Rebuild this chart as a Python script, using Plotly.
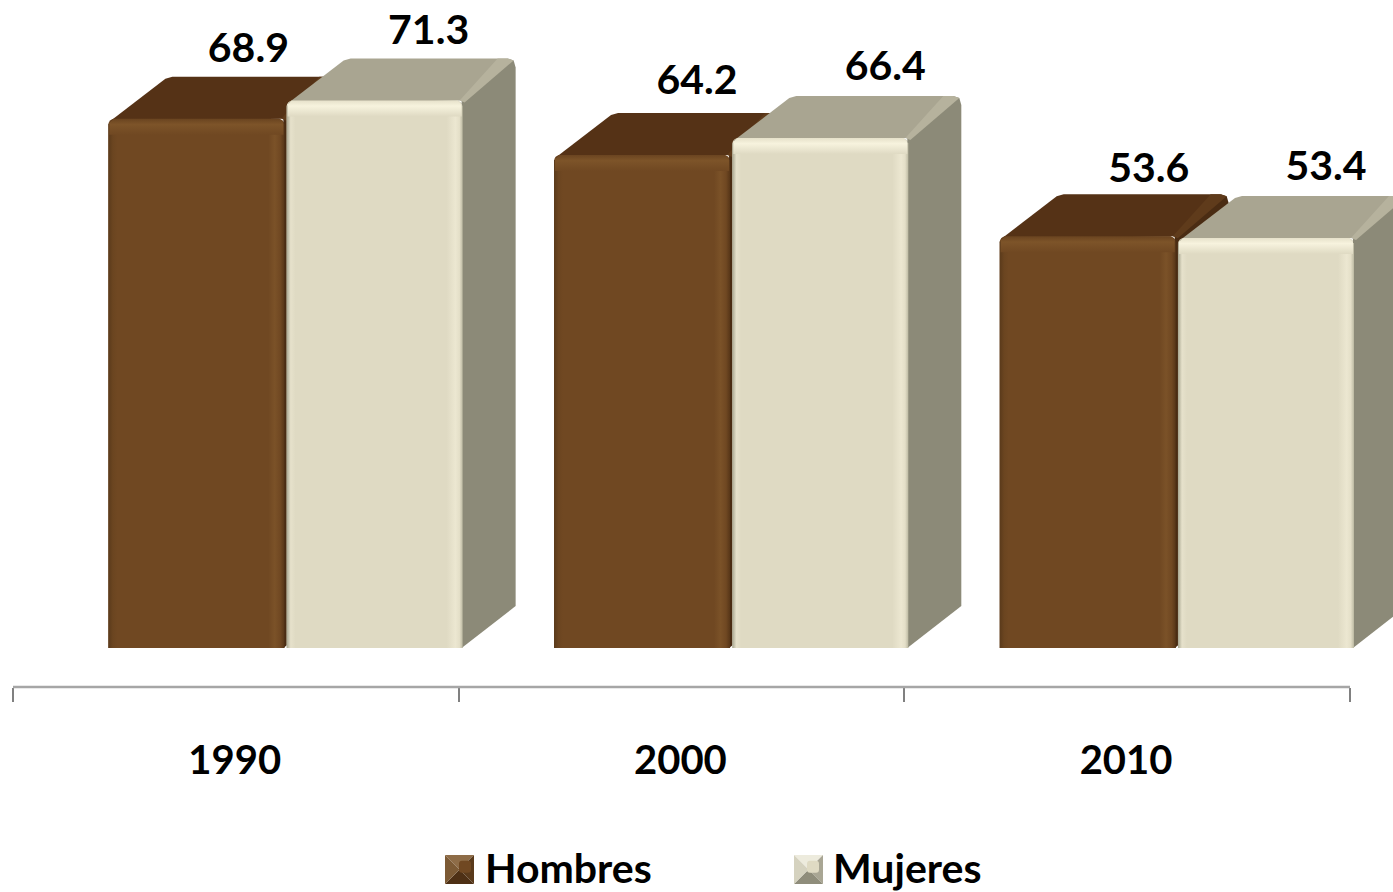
import plotly.graph_objects as go

years = ["1990", "2000", "2010"]
hombres = [68.9, 64.2, 53.6]
mujeres = [71.3, 66.4, 53.4]
series_names = ["Hombres", "Mujeres"]

# label nudges in screen pixels (style only)
label_dx = [[52, 55, 61], [54, 65, 60]]
label_dy = [[67, 71, 65], [67, 68, 68]]

W, H = 1393, 892
AXIS_LEFT, AXIS_RIGHT, AXIS_Y, BASE_Y = 13, 1350, 687, 648
PXX = 3 / (AXIS_RIGHT - AXIS_LEFT)   # axis units per pixel
PXY = 1 / 7.68                       # value units per pixel
BAR_W = 176 * PXX
DEPTH_X, DEPTH_Y = 53 * PXX, 42 * PXY
OFFSETS = [-0.286, 0.114]
FONT = "Lato"
WEIGHT = 700

PAL = [
    dict(front="#704822", top="#553216", side="#4A2C13", ridge="#5F3B1B",
         top_strip=[[0, "#6A4420"], [0.35, "#7D5429"], [1, "#704822"]],
         left_strip=[[0, "#5A3A1B"], [0.5, "#6B4520"], [1, "#704822"]],
         right_strip=[[0, "#704822"], [0.4, "#7B5228"], [0.75, "#704822"], [1, "#573618"]]),
    dict(front="#DFDAC3", top="#A9A591", side="#8C8A78", ridge="#B6B29D",
         top_strip=[[0, "#E6E1CA"], [0.35, "#F7F3DE"], [1, "#DFDAC3"]],
         left_strip=[[0, "#A8A690"], [0.45, "#E6E1CB"], [1, "#DFDAC3"]],
         right_strip=[[0, "#DFDAC3"], [0.55, "#ECE7D1"], [0.8, "#E4DFC8"], [1, "#BDBAA3"]]),
]

x_range = [-AXIS_LEFT * PXX, (W - AXIS_LEFT) * PXX]
y_range = [-(AXIS_Y - BASE_Y) * PXY, BASE_Y * PXY]

fig = go.Figure()


def poly(xs, ys, axes, color=None, gradient=None):
    kw = dict(fillcolor=color) if gradient is None else dict(fillgradient=gradient)
    fig.add_trace(go.Scatter(x=xs + xs[:1], y=ys + ys[:1], mode="lines", fill="toself",
                             line=dict(width=0), showlegend=False, hoverinfo="skip",
                             xaxis=axes[0], yaxis=axes[1], **kw))


for s, values in enumerate([hombres, mujeres]):
    axes = ("x", "y") if s == 0 else ("x2", "y2")
    p = PAL[s]
    fig.add_trace(go.Bar(x=[i + 0.5 for i in range(len(years))], y=values, width=BAR_W,
                         offset=OFFSETS[s], name=series_names[s],
                         marker=dict(color=p["front"], cornerradius=6, line=dict(width=0)),
                         xaxis=axes[0], yaxis=axes[1],
                         hovertemplate="%{y}<extra>" + series_names[s] + "</extra>"))
    for i, v in enumerate(values):
        L = i + 0.5 + OFFSETS[s]
        R = L + BAR_W
        # top face
        poly([L + 1 * PXX, L + DEPTH_X + 4 * PXX, L + DEPTH_X + 11 * PXX, R + DEPTH_X - 8 * PXX, R - 1 * PXX],
             [v - 3 * PXY, v + DEPTH_Y - 2 * PXY, v + DEPTH_Y, v + DEPTH_Y, v],
             axes, color=p["top"])
        # side face
        poly([R - 1 * PXX, R + DEPTH_X - 8 * PXX, R + DEPTH_X - 2 * PXX, R + DEPTH_X, R + DEPTH_X, R - 1 * PXX],
             [v, v + DEPTH_Y, v + DEPTH_Y - 2 * PXY, v + DEPTH_Y - 9 * PXY, DEPTH_Y, 0],
             axes, color=p["side"])
        # ridge between top and side
        poly([R - 3 * PXX, R + DEPTH_X - 18 * PXX, R + DEPTH_X - 8 * PXX, R + DEPTH_X - 2 * PXX, R + 2 * PXX],
             [v, v + DEPTH_Y, v + DEPTH_Y, v + DEPTH_Y - 2 * PXY, v - 2 * PXY],
             axes, color=p["ridge"])
        # bevel strips on the front face
        poly([L, L + 9 * PXX, L + 9 * PXX, L], [v - 5 * PXY, v - 5 * PXY, 0, 0], axes,
             gradient=dict(type="horizontal", start=L, stop=L + 9 * PXX, colorscale=p["left_strip"]))
        poly([R - 16 * PXX, R, R, R - 16 * PXX], [v - 5 * PXY, v - 5 * PXY, 0, 0], axes,
             gradient=dict(type="horizontal", start=R - 16 * PXX, stop=R, colorscale=p["right_strip"]))
        poly([L + 5 * PXX, R - 5 * PXX, R - 1 * PXX, R - 1 * PXX, L + 1 * PXX, L + 1 * PXX],
             [v, v, v - 4 * PXY, v - 16 * PXY, v - 16 * PXY, v - 4 * PXY], axes,
             gradient=dict(type="vertical", start=v - 16 * PXY, stop=v,
                           colorscale=[[1 - c[0], c[1]] for c in reversed(p["top_strip"])]))

    # value labels
    fig.add_trace(go.Scatter(
        x=[i + 0.5 + OFFSETS[s] + BAR_W / 2 + label_dx[s][i] * PXX for i in range(len(years))],
        y=[v + label_dy[s][i] * PXY for i, v in enumerate(values)],
        text=[f"{v:.1f}" for v in values], mode="text", textposition="middle center",
        textfont=dict(family=FONT, size=41, color="#000000", weight=WEIGHT),
        showlegend=False, hoverinfo="skip", cliponaxis=False, xaxis="x2", yaxis="y2"))


def px(x):
    return x / W


def py(y):
    return (AXIS_Y - y) / AXIS_Y


shapes = [dict(type="line", xref="x", yref="paper", x0=0, x1=3, y0=0, y1=0,
               line=dict(color="#A6A6A6", width=2.5))]

SWATCHES = [
    (445, 855, 29, ["#8E6C47", "#5A3A1B", "#4E3015", "#7C5A35"]),
    (794, 855, 29, ["#EDEBDD", "#A9A694", "#8F8D7B", "#D5D2BF"]),
]
for x0, y0, sz, (c_top, c_right, c_bottom, c_left) in SWATCHES:
    cx, cy = x0 + sz / 2, y0 + sz / 2
    corners = [(x0, y0), (x0 + sz, y0), (x0 + sz, y0 + sz), (x0, y0 + sz)]
    for k, col in enumerate([c_top, c_right, c_bottom, c_left]):
        a, b = corners[k], corners[(k + 1) % 4]
        path = f"M{px(a[0])},{py(a[1])} L{px(b[0])},{py(b[1])} L{px(cx)},{py(cy)} Z"
        shapes.append(dict(type="path", xref="paper", yref="paper", path=path,
                           fillcolor=col, line=dict(width=0), layer="above"))

fig.update_layout(
    width=W, height=H, autosize=False,
    margin=dict(l=0, r=0, t=0, b=H - AXIS_Y, pad=0, autoexpand=False),
    paper_bgcolor="#FFFFFF", plot_bgcolor="#FFFFFF",
    barmode="overlay", shapes=shapes,
    xaxis=dict(domain=[0, 1], range=x_range, showgrid=False, zeroline=False, showline=False,
               tickmode="array", tickvals=[0.4975, 1.4975, 2.4975], ticktext=years, ticks="",
               tickfont=dict(family=FONT, size=40, color="#000000", weight=WEIGHT),
               ticklabelstandoff=46,
               minor=dict(ticks="outside", ticklen=14, tickwidth=1.5, tickcolor="#808080",
                          tick0=0, dtick=1, showgrid=False)),
    yaxis=dict(domain=[0, 1], range=y_range, visible=False),
    xaxis2=dict(overlaying="x", range=x_range, visible=False),
    yaxis2=dict(overlaying="y", range=y_range, visible=False),
    legend=dict(orientation="h", x=px(445), xanchor="left", y=py(867), yanchor="middle",
                font=dict(family=FONT, size=41, color="#000000", weight=WEIGHT),
                entrywidth=303, entrywidthmode="pixels", itemwidth=30,
                bgcolor="rgba(0,0,0,0)", traceorder="normal"),
    showlegend=True,
)

fig.write_html("out.html", config=dict(displayModeBar=False),
               post_script="document.body.style.margin='0';"
                           "document.documentElement.style.overflow='hidden';")
